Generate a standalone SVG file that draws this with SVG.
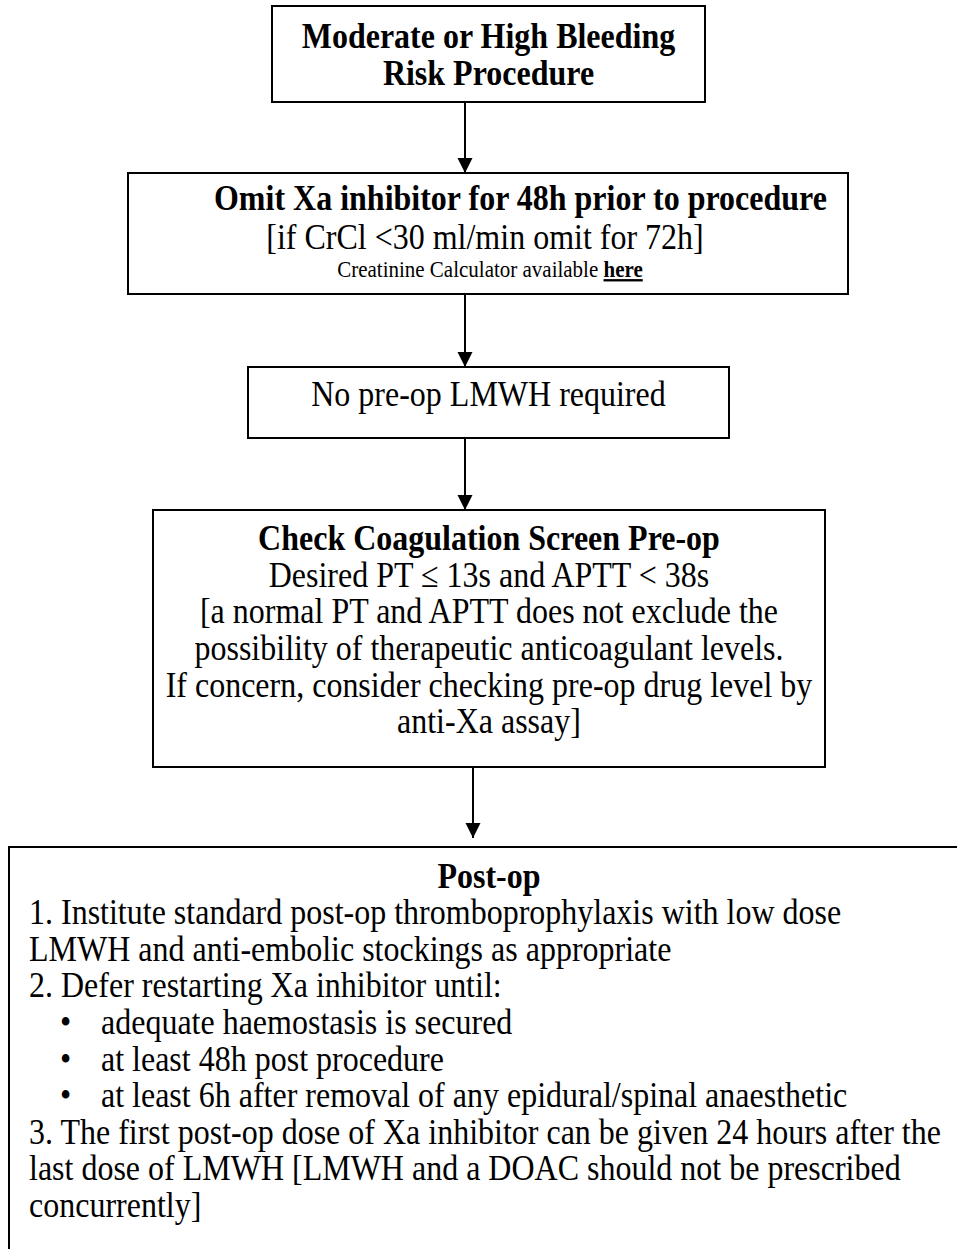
<svg xmlns="http://www.w3.org/2000/svg" width="957" height="1249" viewBox="0 0 957 1249">
<style>
.box{fill:#fff;stroke:#000;stroke-width:2}
.t{font-family:"Liberation Serif","Times New Roman",serif;font-size:32px;fill:#000}
.b{font-weight:bold}
.c{text-anchor:middle}
.conn{stroke:#000;stroke-width:2;fill:none;marker-end:url(#ah)}
</style>
<defs>
<marker id="ah" markerUnits="userSpaceOnUse" markerWidth="16" markerHeight="16" refX="15" refY="7.5" orient="auto">
<path d="M0,0 L15,7.5 L0,15 z" fill="#000"/>
</marker>
</defs>
<rect width="957" height="1249" fill="#fff"/>
<g id="connectors">
<line class="conn" x1="465" y1="103" x2="465" y2="173"/>
<line class="conn" x1="465" y1="294" x2="465" y2="367"/>
<line class="conn" x1="465" y1="438" x2="465" y2="510"/>
<line class="conn" x1="473" y1="767" x2="473" y2="838"/>
</g>
<g id="n1">
<rect class="box" x="272" y="6" width="433" height="96"/>
<text class="t b c" x="488.5" y="48" transform="matrix(1 0 0 1.12 0 -5.76)">Moderate or High Bleeding</text>
<text class="t b c" x="488.5" y="85" transform="matrix(1 0 0 1.12 0 -10.2)">Risk Procedure</text>
</g>
<g id="n2">
<rect class="box" x="128" y="173" width="720" height="121"/>
<text class="t b" x="214" y="210" transform="matrix(1 0 0 1.12 0 -25.2)">Omit Xa inhibitor for 48h prior to procedure</text>
<text class="t c" x="485" y="249" transform="matrix(1 0 0 1.12 0 -29.88)">[if CrCl &lt;30 ml/min omit for 72h]</text>
<text class="t c" x="490" y="277" style="font-size:21px" transform="matrix(1 0 0 1.12 0 -33.24)">Creatinine Calculator available <tspan font-weight="bold" text-decoration="underline">here</tspan></text>
</g>
<g id="n3">
<rect class="box" x="248" y="367" width="481" height="71"/>
<text class="t c" x="488.5" y="406" transform="matrix(1 0 0 1.12 0 -48.72)">No pre-op LMWH required</text>
</g>
<g id="n4">
<rect class="box" x="153" y="510" width="672" height="257"/>
<text class="t b c" x="489" y="550" transform="matrix(1 0 0 1.12 0 -66)">Check Coagulation Screen Pre-op</text>
<text class="t c" x="489" y="587" transform="matrix(1 0 0 1.12 0 -70.44)">Desired PT ≤ 13s and APTT &lt; 38s</text>
<text class="t c" x="489" y="623" transform="matrix(1 0 0 1.12 0 -74.76)">[a normal PT and APTT does not exclude the</text>
<text class="t c" x="489" y="660" transform="matrix(1 0 0 1.12 0 -79.2)">possibility of therapeutic anticoagulant levels.</text>
<text class="t c" x="489" y="697" transform="matrix(1 0 0 1.12 0 -83.64)">If concern, consider checking pre-op drug level by</text>
<text class="t c" x="489" y="733" transform="matrix(1 0 0 1.12 0 -87.96)">anti-Xa assay]</text>
</g>
<g id="n5">
<rect class="box" x="9" y="847" width="980" height="430"/>
<text class="t b c" x="489" y="888" transform="matrix(1 0 0 1.12 0 -106.56)">Post-op</text>
<text class="t" x="29" y="924" transform="matrix(1 0 0 1.12 0 -110.88)">1. Institute standard post-op thromboprophylaxis with low dose</text>
<text class="t" x="29" y="961" transform="matrix(1 0 0 1.12 0 -115.32)">LMWH and anti-embolic stockings as appropriate</text>
<text class="t" x="29" y="997" transform="matrix(1 0 0 1.12 0 -119.64)">2. Defer restarting Xa inhibitor until:</text>
<text class="t" x="60" y="1034" transform="matrix(1 0 0 1.12 0 -124.08)">•</text>
<text class="t" x="101" y="1034" transform="matrix(1 0 0 1.12 0 -124.08)">adequate haemostasis is secured</text>
<text class="t" x="60" y="1071" transform="matrix(1 0 0 1.12 0 -128.52)">•</text>
<text class="t" x="101" y="1071" transform="matrix(1 0 0 1.12 0 -128.52)">at least 48h post procedure</text>
<text class="t" x="60" y="1107" transform="matrix(1 0 0 1.12 0 -132.84)">•</text>
<text class="t" x="101" y="1107" transform="matrix(1 0 0 1.12 0 -132.84)">at least 6h after removal of any epidural/spinal anaesthetic</text>
<text class="t" x="29" y="1144" transform="matrix(1 0 0 1.12 0 -137.28)">3. The first post-op dose of Xa inhibitor can be given 24 hours after the</text>
<text class="t" x="29" y="1180" transform="matrix(1 0 0 1.12 0 -141.6)">last dose of LMWH [LMWH and a DOAC should not be prescribed</text>
<text class="t" x="29" y="1217" transform="matrix(1 0 0 1.12 0 -146.04)">concurrently]</text>
</g>
</svg>
